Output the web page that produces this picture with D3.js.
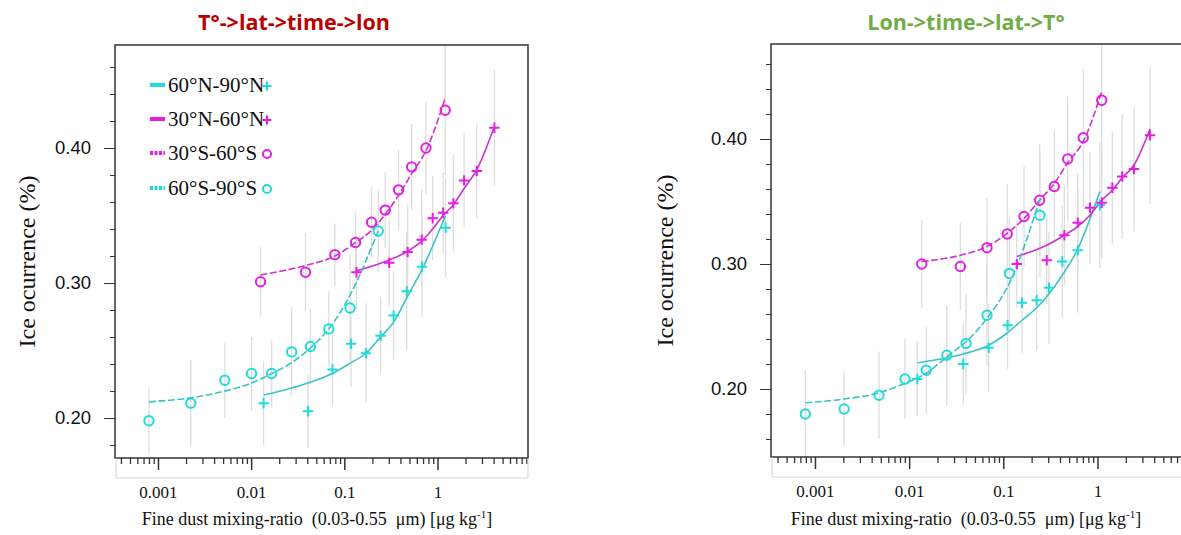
<!DOCTYPE html>
<html>
<head>
<meta charset="utf-8">
<script src="https://cdn.jsdelivr.net/npm/d3@7"></script>
<style>
  body { margin: 0; background: #fff; }
  svg { display: block; }
</style>
</head>
<body>
<svg width="1181" height="535"></svg>
<script>
// ---- values ----
const regions = ["60°N-90°N", "30°N-60°N", "30°S-60°S", "60°S-90°S"];
const yTickValues = [0.20, 0.30, 0.40];
const xTickValues = [0.001, 0.01, 0.1, 1];
const xTickLabels = ["0.001", "0.01", "0.1", "1"];

// left panel  (T°->lat->time->lon)
const aN90x   = [0.0136, 0.0408, 0.0746, 0.118, 0.171, 0.245, 0.338, 0.467, 0.681, 1.22];
const aN90y   = [0.211, 0.205, 0.236, 0.255, 0.248, 0.261, 0.276, 0.294, 0.312, 0.341];
const aN90fit = [0.217, 0.226, 0.233, 0.241, 0.248, 0.260, 0.271, 0.289, 0.310, 0.350];
const aN90err = [0.031, 0.027, 0.027, 0.032, 0.037, 0.028, 0.033, 0.044, 0.037, 0.037];

const aN60x   = [0.135, 0.303, 0.478, 0.676, 0.887, 1.15, 1.48, 1.93, 2.64, 4.08];
const aN60y   = [0.308, 0.315, 0.323, 0.332, 0.348, 0.352, 0.359, 0.376, 0.383, 0.415];
const aN60fit = [0.309, 0.317, 0.3235, 0.331, 0.340, 0.350, 0.358, 0.370, 0.384, 0.416];
const aN60err = [0.028, 0.032, 0.035, 0.037, 0.031, 0.030, 0.036, 0.035, 0.035, 0.043];

const aS60x   = [0.0126, 0.0383, 0.0791, 0.132, 0.196, 0.275, 0.382, 0.528, 0.752, 1.21];
const aS60y   = [0.301, 0.308, 0.321, 0.330, 0.345, 0.354, 0.369, 0.386, 0.400, 0.428];
const aS60fit = [0.306, 0.313, 0.320, 0.330, 0.339, 0.351, 0.365, 0.381, 0.398, 0.437];
const aS60err = [0.026, 0.029, 0.023, 0.023, 0.026, 0.028, 0.030, 0.032, 0.035, 0.048];

const aS90x   = [0.0008, 0.00225, 0.00522, 0.0101, 0.0166, 0.0272, 0.0433, 0.0681, 0.115, 0.231];
const aS90y   = [0.198, 0.211, 0.228, 0.233, 0.233, 0.249, 0.253, 0.266, 0.2815, 0.3385];
const aS90fit = [0.212, 0.215, 0.220, 0.226, 0.233, 0.241, 0.252, 0.266, 0.291, 0.3385];
const aS90err = [0.024, 0.032, 0.028, 0.027, 0.025, 0.033, 0.028, 0.028, 0.039, 0.030];

// right panel  (Lon->time->lat->T°)
const bN90x   = [0.0122, 0.0376, 0.070, 0.111, 0.158, 0.226, 0.305, 0.423, 0.617, 1.06];
const bN90y   = [0.208, 0.220, 0.233, 0.251, 0.269, 0.271, 0.281, 0.302, 0.311, 0.347];
const bN90fit = [0.221, 0.228, 0.235, 0.245, 0.255, 0.265, 0.276, 0.291, 0.312, 0.358];
const bN90err = [0.030, 0.033, 0.035, 0.035, 0.040, 0.040, 0.045, 0.045, 0.050, 0.050];

const bN60x   = [0.139, 0.289, 0.445, 0.617, 0.832, 1.11, 1.44, 1.83, 2.44, 3.61];
const bN60y   = [0.300, 0.303, 0.323, 0.333, 0.345, 0.349, 0.361, 0.370, 0.376, 0.403];
const bN60fit = [0.306, 0.315, 0.323, 0.330, 0.339, 0.351, 0.359, 0.369, 0.379, 0.408];
const bN60err = [0.035, 0.035, 0.040, 0.040, 0.045, 0.045, 0.045, 0.050, 0.050, 0.055];

const bS60x   = [0.0136, 0.035, 0.0671, 0.110, 0.166, 0.243, 0.348, 0.483, 0.706, 1.11];
const bS60y   = [0.300, 0.298, 0.313, 0.324, 0.338, 0.351, 0.362, 0.384, 0.401, 0.431];
const bS60fit = [0.302, 0.307, 0.314, 0.3245, 0.3365, 0.351, 0.3645, 0.381, 0.398, 0.438];
const bS60err = [0.035, 0.035, 0.040, 0.040, 0.040, 0.045, 0.045, 0.050, 0.055, 0.065];

const bS90x   = [0.00079, 0.00204, 0.00479, 0.00904, 0.0152, 0.0251, 0.0402, 0.0671, 0.116, 0.245];
const bS90y   = [0.180, 0.184, 0.195, 0.208, 0.215, 0.227, 0.2365, 0.259, 0.2925, 0.339];
const bS90fit = [0.189, 0.192, 0.197, 0.2046, 0.2126, 0.2258, 0.2378, 0.2566, 0.2846, 0.352];
const bS90err = [0.035, 0.030, 0.035, 0.032, 0.035, 0.040, 0.040, 0.040, 0.045, 0.050];

// ---- styles ----
const cyanMark = "#1fdcdc", cyanLine = "#3cc4c4";
const magMark = "#e41ee4", magLine = "#cc33cc";
const styles = [
  { mark: cyanMark, line: cyanLine, dash: null, shape: "cross" },
  { mark: magMark, line: magLine, dash: null, shape: "cross" },
  { mark: magMark, line: magLine, dash: "7,2.5", shape: "circle" },
  { mark: cyanMark, line: cyanLine, dash: "7,2.5", shape: "circle" }
];

const panels = [
  {
    id: "a", title: "T°->lat->time->lon", titleColor: "#b80000", titleX: 294,
    left: 115, right: 528, top: 45, bottom: 458,
    xDomain: [Math.pow(10, -3.4615), Math.pow(10, 0.9713)],
    yDomain: [0.1704, 0.4763],
    yTitleX: 35, legend: true,
    series: [[aN90x, aN90y, aN90fit, aN90err], [aN60x, aN60y, aN60fit, aN60err],
             [aS60x, aS60y, aS60fit, aS60err], [aS90x, aS90y, aS90fit, aS90err]]
  },
  {
    id: "b", title: "Lon->time->lat->T°", titleColor: "#70ad47", titleX: 966,
    left: 771, right: 1189, top: 44, bottom: 457,
    xDomain: [Math.pow(10, -3.467), Math.pow(10, 0.972)],
    yDomain: [0.1456, 0.476],
    yTitleX: 673, legend: false,
    series: [[bN90x, bN90y, bN90fit, bN90err], [bN60x, bN60y, bN60fit, bN60err],
             [bS60x, bS60y, bS60fit, bS60err], [bS90x, bS90y, bS90fit, bS90err]]
  }
];

const svg = d3.select("svg");
const serif = "'Liberation Serif', 'DejaVu Serif', serif";
const sans = "'Liberation Sans', Arial, sans-serif";

function marker(sel, shape, color, size) {
  if (shape === "circle") {
    sel.append("circle").attr("r", size * 0.9).attr("fill", "none")
      .attr("stroke", color).attr("stroke-width", 2);
  } else {
    sel.append("path").attr("d", `M${-size},0H${size}M0,${-size}V${size}`)
      .attr("stroke", color).attr("stroke-width", 2).attr("fill", "none");
  }
}

function drawPanel(p) {
  const x = d3.scaleLog().domain(p.xDomain).range([p.left, p.right]);
  const y = d3.scaleLinear().domain(p.yDomain).range([p.bottom, p.top]);
  const g = svg.append("g");

  g.append("clipPath").attr("id", "clip-" + p.id)
    .append("rect").attr("x", p.left).attr("y", p.top)
    .attr("width", p.right - p.left).attr("height", p.bottom - p.top);

  const plot = g.append("g").attr("clip-path", `url(#clip-${p.id})`);

  // error bars
  p.series.forEach(([xs, ys, fit, err]) => {
    plot.append("g").selectAll("line")
      .data(xs.map((d, i) => ({ x: d, y: ys[i], e: err[i] })))
      .join("line")
      .attr("x1", d => x(d.x)).attr("x2", d => x(d.x))
      .attr("y1", d => y(d.y - d.e)).attr("y2", d => y(d.y + d.e))
      .attr("stroke", "#dedede").attr("stroke-width", 1.3);
  });

  // fitted curves
  const line = d3.line().x(d => x(d[0])).y(d => y(d[1])).curve(d3.curveMonotoneX);
  p.series.forEach(([xs, ys, fit], k) => {
    plot.append("path")
      .datum(xs.map((d, i) => [d, fit[i]]))
      .attr("d", line)
      .attr("fill", "none")
      .attr("stroke", styles[k].line)
      .attr("stroke-width", 1.6)
      .attr("stroke-dasharray", styles[k].dash);
  });

  // points
  p.series.forEach(([xs, ys], k) => {
    xs.forEach((d, i) => {
      const m = plot.append("g").attr("transform", `translate(${x(d)},${y(ys[i])})`);
      marker(m, styles[k].shape, styles[k].mark, 5.2);
    });
  });

  // frame
  g.append("rect").attr("x", p.left).attr("y", p.top)
    .attr("width", p.right - p.left).attr("height", p.bottom - p.top)
    .attr("fill", "none").attr("stroke", "#333").attr("stroke-width", 1.5);

  // y axis
  const yMinor = d3.range(0.16, 0.4801, 0.02).filter(v => v >= p.yDomain[0] && v <= p.yDomain[1]);
  g.append("g").attr("transform", `translate(${p.left},0)`)
    .call(d3.axisLeft(y).tickValues(yMinor).tickSize(5).tickFormat(""))
    .call(a => a.select(".domain").remove())
    .selectAll("line").attr("stroke", "#333");
  const ya = g.append("g").attr("transform", `translate(${p.left},0)`)
    .call(d3.axisLeft(y).tickValues(yTickValues).tickSize(11).tickPadding(13).tickFormat(d3.format(".2f")));
  ya.select(".domain").remove();
  ya.selectAll("line").attr("stroke", "#333");
  ya.selectAll("text").attr("font-family", sans).attr("font-size", 18.5).attr("fill", "#111");

  g.append("text")
    .attr("transform", `translate(${p.yTitleX},${(p.top + p.bottom) / 2 + 10}) rotate(-90)`)
    .attr("text-anchor", "middle")
    .attr("font-family", serif).attr("font-size", 24).attr("fill", "#111")
    .text("Ice ocurrence (%)");

  // x axis strip
  const xAll = x.ticks();
  const xMinor = xAll.filter(v => Math.abs(Math.log10(v) - Math.round(Math.log10(v))) > 1e-6);
  g.append("g").attr("transform", `translate(0,${p.bottom})`)
    .call(d3.axisBottom(x).tickValues(xMinor).tickSize(6).tickFormat(""))
    .call(a => a.select(".domain").remove())
    .selectAll("line").attr("stroke", "#333").attr("stroke-width", 1.3);
  const xa = g.append("g").attr("transform", `translate(0,${p.bottom})`)
    .call(d3.axisBottom(x).tickValues(xTickValues).tickSize(12).tickPadding(16)
      .tickFormat((d, i) => xTickLabels[i]));
  xa.select(".domain").remove();
  xa.selectAll("line").attr("stroke", "#333").attr("stroke-width", 1.5);
  xa.selectAll("text").attr("font-family", serif).attr("font-size", 17).attr("fill", "#111");

  g.append("path")
    .attr("d", `M${p.left + 1},${p.bottom}V${p.bottom + 20}H${p.right}V${p.bottom}`)
    .attr("fill", "none").attr("stroke", "#d4d4d4").attr("stroke-width", 1);

  const xt = g.append("text")
    .attr("x", p.titleX + (p.id === "a" ? 23 : 0)).attr("y", 525)
    .attr("text-anchor", "middle")
    .attr("font-family", serif).attr("font-size", 18).attr("fill", "#111");
  xt.append("tspan").text("Fine dust mixing-ratio\u00a0\u00a0(0.03-0.55\u00a0\u00a0\u03bcm) [\u03bcg kg");
  xt.append("tspan").attr("dy", -7).attr("font-size", 11).text("-1");
  xt.append("tspan").attr("dy", 7).text("]");

  // panel title
  svg.append("text").attr("x", p.titleX).attr("y", 30)
    .attr("text-anchor", "middle")
    .attr("font-family", "'Open Sans', 'Noto Sans', sans-serif")
    .attr("font-weight", "bold").attr("font-size", 21.5)
    .attr("fill", p.titleColor)
    .text(p.title);

  // legend
  if (p.legend) {
    const rowsY = [85, 119, 153, 188];
    regions.forEach((name, k) => {
      const row = g.append("g").attr("transform", `translate(0,${rowsY[k]})`);
      row.append("line").attr("x1", 150).attr("x2", 165)
        .attr("stroke", styles[k].mark).attr("stroke-width", 4)
        .attr("stroke-dasharray", styles[k].dash ? "3,1.5" : null);
      row.append("text").attr("x", 168).attr("y", 7)
        .attr("font-family", serif).attr("font-size", 21).attr("fill", "#111")
        .text(name);
      const m = row.append("g").attr("transform", "translate(267,1)");
      marker(m, styles[k].shape, styles[k].mark, 4.5);
    });
  }
}

panels.forEach(drawPanel);
</script>
</body>
</html>
